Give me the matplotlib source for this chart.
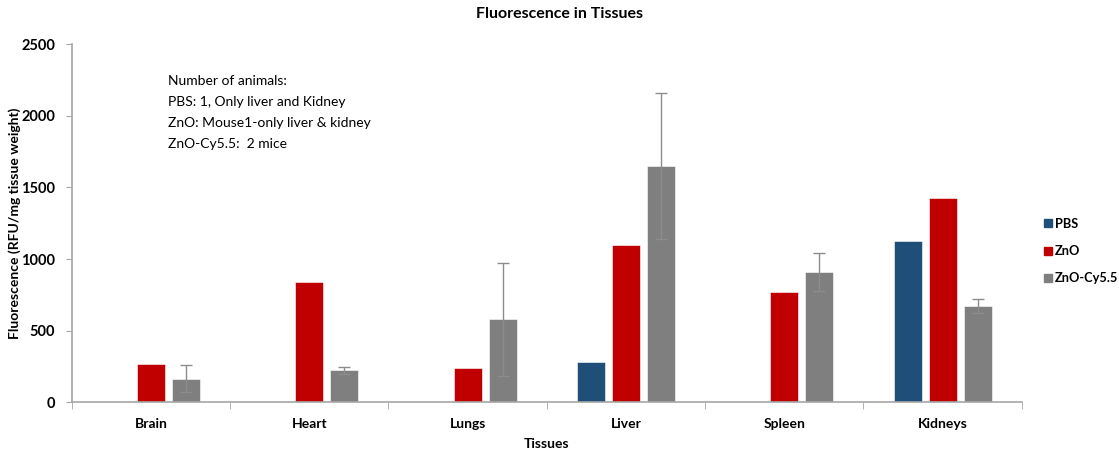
import numpy as np
import matplotlib.pyplot as plt
from matplotlib.lines import Line2D

plt.rcParams['font.family'] = ['Lato', 'DejaVu Sans']

tissues = ['Brain', 'Heart', 'Lungs', 'Liver', 'Spleen', 'Kidneys']
groups = ['PBS', 'ZnO', 'ZnO-Cy5.5']
colors = ['#1F4E79', '#C00000', '#7F7F7F']

# NaN where a group has no measurement for that tissue
pbs = [np.nan, np.nan, np.nan, 279, np.nan, 1123]
zno = [265, 839, 241, 1095, 768, 1423]
zno_cy = [163, 223, 579, 1651, 911, 672]
zno_cy_err = [94, 26, 393, 508, 133, 49]

note = ("Number of animals:\n"
        "PBS: 1, Only liver and Kidney\n"
        "ZnO: Mouse1-only liver & kidney\n"
        "ZnO-Cy5.5:  2 mice")

fig = plt.figure(figsize=(11.19, 4.5), dpi=100)
ax = fig.add_axes([0.0641, 0.106, 0.849, 0.796])

x = np.arange(len(tissues)) + 0.5
bw = 0.177
step = 0.221
series = [pbs, zno, zno_cy]
for i, vals in enumerate(series):
    ax.bar(x + (i - 1) * step, vals, width=bw, color=colors[i],
           edgecolor='white', linewidth=0.4, label=groups[i], zorder=2)

ax.errorbar(x + step, zno_cy, yerr=zno_cy_err, fmt='none', ecolor='#8C8C8C',
            elinewidth=1.0, capsize=4, capthick=1.0, zorder=3)

ax.set_xlim(0, len(tissues))
ax.set_ylim(0, 2500)
ax.set_yticks(np.arange(0, 2501, 500))
ax.set_xticks(x)
ax.set_xticklabels(tissues, fontsize=10, fontweight='bold')
ax.set_xticks(np.arange(0, len(tissues) + 1), minor=True)
ax.tick_params(axis='x', which='major', length=0, pad=11)
ax.tick_params(axis='x', which='minor', length=5, color='#A6A6A6', direction='out')
ax.tick_params(axis='y', length=4, color='#A6A6A6', pad=8, labelsize=10.5)
for lbl in ax.get_yticklabels():
    lbl.set_fontweight('bold')

for side in ['top', 'right']:
    ax.spines[side].set_visible(False)
for side in ['left', 'bottom']:
    ax.spines[side].set_color('#A6A6A6')
    ax.spines[side].set_linewidth(1.2)

ax.set_xlabel('Tissues', fontsize=10, fontweight='bold', labelpad=6)
ax.set_ylabel('Fluorescence (RFU/mg tissue weight)', fontsize=10,
              fontweight='bold', labelpad=0)
fig.suptitle('Fluorescence in Tissues', fontsize=11.5, fontweight='bold', y=0.985)

ax.text(0.101, 0.915, note, transform=ax.transAxes, fontsize=10,
        va='top', ha='left', linespacing=1.92)

handles = [Line2D([], [], marker='s', linestyle='none', markersize=5.5,
                  color=c) for c in colors]
leg = fig.legend(handles, groups, loc='upper left', bbox_to_anchor=(0.933, 0.516),
                 frameon=False, handlelength=0.6, handletextpad=0.25,
                 labelspacing=1.2, borderaxespad=0.0, borderpad=0.0,
                 prop={'weight': 'bold', 'size': 9.2})

fig.savefig('out.png', dpi=100)
